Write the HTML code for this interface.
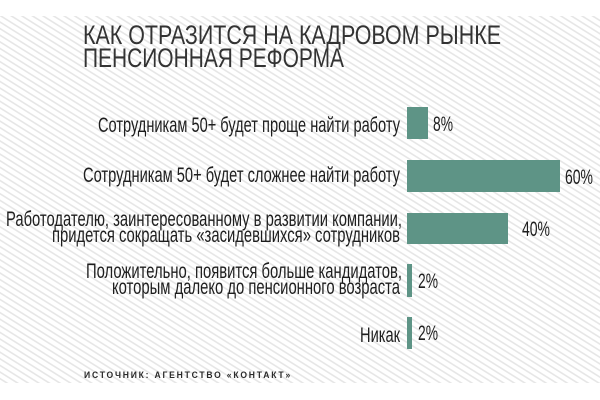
<!DOCTYPE html>
<html>
<head>
<meta charset="utf-8">
<style>
  html, body { margin:0; padding:0; background:#fff; }
  #wrap { position:relative; width:600px; height:400px; overflow:hidden; background:#fff; }
  #stripes {
    position:absolute; left:0; top:16px; width:600px; height:367px;
    background: repeating-linear-gradient(32deg, #ffffff 0px, #ffffff 2.6px, #e6e6e6 3.2px, #e6e6e6 4.2px, #ffffff 4.8px, #ffffff 5.6px);
  }
  svg { position:absolute; left:0; top:0; }
  .lbl { font-family:"Liberation Sans", sans-serif; font-size:21.5px; fill:#1e1e1e; }
  .pct { font-family:"Liberation Sans", sans-serif; font-size:21px; fill:#1e1e1e; }
  .ttl { font-family:"Liberation Sans", sans-serif; font-size:27px; fill:#333; }
  .src { font-family:"Liberation Sans", sans-serif; font-size:9.5px; font-weight:bold; fill:#2a2a2a; letter-spacing:2px; }
</style>
</head>
<body>
<div id="wrap">
  <div id="stripes"></div>
  <svg width="600" height="400" viewBox="0 0 600 400" xmlns="http://www.w3.org/2000/svg">
    <text class="ttl" x="83" y="44" textLength="418" lengthAdjust="spacingAndGlyphs">КАК ОТРАЗИТСЯ НА КАДРОВОМ РЫНКЕ</text>
    <text class="ttl" x="83" y="67" textLength="261" lengthAdjust="spacingAndGlyphs">ПЕНСИОННАЯ РЕФОРМА</text>

    <text class="lbl" x="98" y="132" textLength="302" lengthAdjust="spacingAndGlyphs">Сотрудникам 50+ будет проще найти работу</text>
    <text class="lbl" x="83" y="182" textLength="317" lengthAdjust="spacingAndGlyphs">Сотрудникам 50+ будет сложнее найти работу</text>
    <text class="lbl" x="6" y="226" textLength="396" lengthAdjust="spacingAndGlyphs">Работодателю, заинтересованному в развитии компании,</text>
    <text class="lbl" x="52" y="242" textLength="348" lengthAdjust="spacingAndGlyphs">придется сокращать «засидевшихся» сотрудников</text>
    <text class="lbl" x="86" y="278" textLength="316" lengthAdjust="spacingAndGlyphs">Положительно, появится больше кандидатов,</text>
    <text class="lbl" x="112" y="294" textLength="288" lengthAdjust="spacingAndGlyphs">которым далеко до пенсионного возраста</text>
    <text class="lbl" x="360" y="342" textLength="40" lengthAdjust="spacingAndGlyphs">Никак</text>

    <rect x="407" y="107" width="21" height="32" fill="#5e9486"/>
    <rect x="407" y="160" width="153" height="32" fill="#5e9486"/>
    <rect x="407" y="213" width="101" height="31" fill="#5e9486"/>
    <rect x="407" y="264" width="5" height="33" fill="#5e9486"/>
    <rect x="407" y="317" width="5" height="32" fill="#5e9486"/>

    <text class="pct" x="433" y="131" textLength="20" lengthAdjust="spacingAndGlyphs">8%</text>
    <text class="pct" x="565" y="184" textLength="28" lengthAdjust="spacingAndGlyphs">60%</text>
    <text class="pct" x="522" y="236" textLength="28" lengthAdjust="spacingAndGlyphs">40%</text>
    <text class="pct" x="418" y="288" textLength="20" lengthAdjust="spacingAndGlyphs">2%</text>
    <text class="pct" x="418" y="340" textLength="20" lengthAdjust="spacingAndGlyphs">2%</text>

    <text class="src" x="84" y="378" textLength="208" lengthAdjust="spacingAndGlyphs">ИСТОЧНИК:  АГЕНТСТВО «КОНТАКТ»</text>
  </svg>
</div>
</body>
</html>
